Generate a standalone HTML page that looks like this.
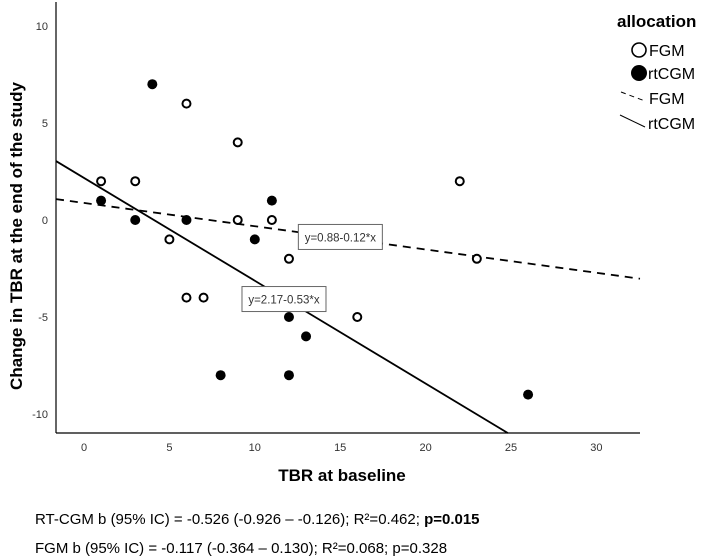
<!DOCTYPE html>
<html><head><meta charset="utf-8"><style>
body{margin:0;background:#fff;}
svg{display:block;font-family:"Liberation Sans",Arial,sans-serif;}
</style></head><body>
<svg id="chart" width="708" height="560" viewBox="0 0 708 560" xmlns="http://www.w3.org/2000/svg">
<g id="axes"></g><g id="lines"></g><g id="marks"></g>
<text transform="translate(22,236) rotate(-90)" text-anchor="middle" font-size="17" font-weight="bold">Change in TBR at the end of the study</text>
<text x="342" y="481" text-anchor="middle" font-size="17" font-weight="bold">TBR at baseline</text>
<g>
<text x="617" y="27" font-size="17" font-weight="bold">allocation</text>
<circle cx="639" cy="50" r="7" fill="#fff" stroke="#000" stroke-width="1.6"/>
<text x="649" y="56" font-size="16">FGM</text>
<circle cx="639" cy="73" r="8" fill="#000"/>
<text x="648" y="79" font-size="16">rtCGM</text>
<line x1="621" y1="92" x2="645" y2="101" stroke="#000" stroke-width="1" stroke-dasharray="5,4"/>
<text x="649" y="104" font-size="16">FGM</text>
<line x1="620" y1="115" x2="645" y2="127" stroke="#000" stroke-width="1"/>
<text x="648" y="129" font-size="16">rtCGM</text>
</g>
<text x="35" y="524" font-size="15">RT-CGM b (95% IC) = -0.526 (-0.926 – -0.126); R²=0.462; <tspan font-weight="bold">p=0.015</tspan></text>
<text x="35" y="553" font-size="15">FGM b (95% IC) = -0.117 (-0.364 – 0.130); R²=0.068; p=0.328</text>
</svg>
<script>
const xTicks=[0,5,10,15,20,25,30];
const yTicks=[10,5,0,-5,-10];
const fgmX=[1,3,6,9,5,6,7,9,11,12,16,22,23];
const fgmY=[2,2,6,4,-1,-4,-4,0,0,-2,-5,2,-2];
const rtX=[1,3,4,6,10,11,12,13,8,12,26];
const rtY=[1,0,7,0,-1,1,-5,-6,-8,-8,-9];
const fits=[{name:'fgm',a:0.88,b:-0.12,label:'y=0.88-0.12*x',lx:12.55,ly:-0.9,dash:'8,6'},{name:'rtcgm',a:2.17,b:-0.53,label:'y=2.17-0.53*x',lx:9.25,ly:-4.1,dash:''}];
const X0=56,X1=640,Y0=2,Y1=433;
const sx=v=>84+v*17.08, sy=v=>220-v*19.4;
const xMin=(X0-84)/17.08, xMax=(X1-84)/17.08, yMin=(220-Y1)/19.4;
const NS='http://www.w3.org/2000/svg';
function mk(t,p,a){const e=document.createElementNS(NS,t);for(const k in a)e.setAttribute(k,a[k]);p.appendChild(e);return e;}
const axes=document.getElementById('axes'),lines=document.getElementById('lines'),marks=document.getElementById('marks');
let e=mk('line',axes,{x1:X0,y1:Y0,x2:X0,y2:Y1,stroke:'#000','stroke-width':1.2});


e=mk('line',axes,{x1:X0,y1:Y1,x2:X1,y2:Y1,stroke:'#000','stroke-width':1.2});


xTicks.forEach(t=>{const el=mk('text',axes,{x:sx(t),y:Y1+18,'text-anchor':'middle','font-size':11,fill:'#333'});el.textContent=t;

});
yTicks.forEach(t=>{const el=mk('text',axes,{x:48,y:sy(t)+4,'text-anchor':'end','font-size':11,fill:'#333'});el.textContent=t;

});
fits.forEach(f=>{
 let xa=xMin,xb=xMax;const yb=f.a+f.b*xb;if(yb<yMin)xb=(yMin-f.a)/f.b;
 const l=mk('line',lines,{x1:sx(xa),y1:sy(f.a+f.b*xa),x2:sx(xb),y2:sy(f.a+f.b*xb),stroke:'#000','stroke-width':1.8});
 if(f.dash)l.setAttribute('stroke-dasharray',f.dash);
 
 
});
fgmX.forEach((x,i)=>{const c=mk('circle',marks,{cx:sx(x),cy:sy(fgmY[i]),r:4,fill:'#fff',stroke:'#000','stroke-width':2});

});
rtX.forEach((x,i)=>{const c=mk('circle',marks,{cx:sx(x),cy:sy(rtY[i]),r:5,fill:'#000'});

});
fits.forEach(f=>{
 const bx=sx(f.lx),by=sy(f.ly);
 const r=mk('rect',marks,{x:bx,y:by-13,width:84,height:25,fill:'#fff',stroke:'#666','stroke-width':1});
 
 
 const t=mk('text',marks,{x:bx+42,y:by+4,'text-anchor':'middle','font-size':11.5,fill:'#333'});t.textContent=f.label;
 
 
});
</script>
</body></html>
